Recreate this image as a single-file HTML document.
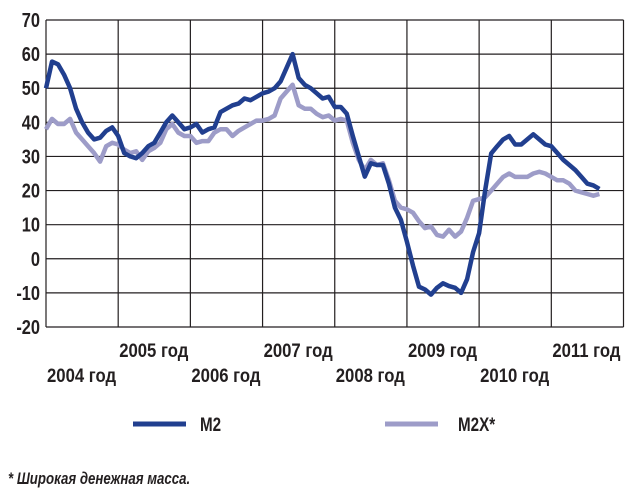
<!DOCTYPE html>
<html><head><meta charset="utf-8"><style>
html,body{margin:0;padding:0;background:#fff;}
svg{display:block;font-family:"Liberation Sans",sans-serif;}
</style></head><body>
<svg id="chart" width="635" height="495" viewBox="0 0 635 495" xmlns="http://www.w3.org/2000/svg">
<g id="grid"></g>
<g id="series"></g>
<g id="labels"></g>
<g>
  <line x1="133" y1="424" x2="186" y2="424" stroke="#213f8f" stroke-width="5"/>
  <g transform="translate(200,431) scale(0.8,1)"><text font-size="19" font-weight="bold" fill="#231f20">M2</text></g>
  <line x1="385" y1="424" x2="438" y2="424" stroke="#9d9cc8" stroke-width="5"/>
  <g transform="translate(458,431) scale(0.8,1)"><text font-size="19" font-weight="bold" fill="#231f20">M2X*</text></g>
</g>
<g transform="translate(8,484) scale(0.78,1)"><text font-size="17" font-weight="bold" font-style="italic" fill="#231f20">* Широкая денежная масса.</text></g>
</svg>
<script>
const years = ["2004 год","2005 год","2006 год","2007 год","2008 год","2009 год","2010 год","2011 год"];
const yTicks = [70,60,50,40,30,20,10,0,-10,-20];
const m2 = [50,57.8,57,54,50,44,40,37,35,35.5,37.5,38.5,36,31,30,29.5,31,33,34,37,40,42,40,38,38.5,39.5,37,38,38.5,43,44,45,45.5,47,46.5,47.5,48.5,49,50,52,56,60,53,51,50,48.5,47,47.5,44.5,44.5,42.5,36,30,24.1,28,27.5,27.5,22,15,11.4,5,-2,-8.2,-9,-10.5,-8.5,-7.2,-8,-8.5,-10,-6,2,7.5,20,30.9,33,35,36,33.5,33.5,35,36.5,35,33.5,33,31,29,27.5,26,24,22,21.5,20.5];
const m2x = [38,41,39.5,39.5,41,37,35,33,31,28.5,33,34,33.5,32,31,31.5,29,31.5,32.5,34,38,39.5,37,36,36,34,34.5,34.5,37,38,38,36,37.5,38.5,39.5,40.5,40.5,41,42,47,49,51,45,44,44,42.5,41.5,42,40.5,41,40.5,34,29,26,29,27.5,28,23,17,15,14.5,13.5,11,9,9.5,7,6.5,8.5,6.5,8,12,17,17.5,18,20,22,24,25,24,24,24,25,25.5,25,24,23,23,22,20,19.5,19,18.5,19];
const X0=46, X1=623.5, Y0=20, Y1=327, YMAX=70, YMIN=-20;
const NS="http://www.w3.org/2000/svg";
const monthW=(X1-X0)/(years.length*12);
function xm(i){return X0+i*monthW;}
function xy(i){return X0+i*12*monthW;}
function yv(v){return Y0+(YMAX-v)/(YMAX-YMIN)*(Y1-Y0);}
function mk(tag,attrs,parent){const e=document.createElementNS(NS,tag);for(const k in attrs)e.setAttribute(k,attrs[k]);parent.appendChild(e);return e;}
const grid=document.getElementById('grid'),ser=document.getElementById('series'),lab=document.getElementById('labels');
yTicks.forEach(t=>{
  const l=mk('line',{x1:X0,x2:X1,y1:yv(t),y2:yv(t),stroke:'#231f20','stroke-width':1.2},grid);
  
  
  const g=mk('g',{transform:`translate(40,${yv(t)+7}) scale(0.82,1)`},lab);
  const tx=mk('text',{'text-anchor':'end','font-size':20,'font-weight':'bold',fill:'#231f20'},g);
  tx.textContent=t;
  
  
});
for(let i=0;i<=years.length;i++){
  const l=mk('line',{x1:xy(i),x2:xy(i),y1:Y0,y2:Y1,stroke:'#231f20','stroke-width':1.2},grid);
  
  
}
years.forEach((y,i)=>{
  const by = i%2===1 ? 357 : 382;
  const g=mk('g',{transform:`translate(${xy(i)+1},${by}) scale(0.88,1)`},lab);
  const tx=mk('text',{'font-size':19,'font-weight':'bold',fill:'#231f20'},g);
  tx.textContent=y;
  
  
});
function line(data,color,name){
  const p=mk('polyline',{points:data.map((v,i)=>xm(i).toFixed(1)+','+yv(v).toFixed(1)).join(' '),fill:'none',stroke:color,'stroke-width':4.5,'stroke-linejoin':'round'},ser);
  
  
}
line(m2x,'#9d9cc8','line-m2x');
line(m2,'#213f8f','line-m2');
</script>
</body></html>
